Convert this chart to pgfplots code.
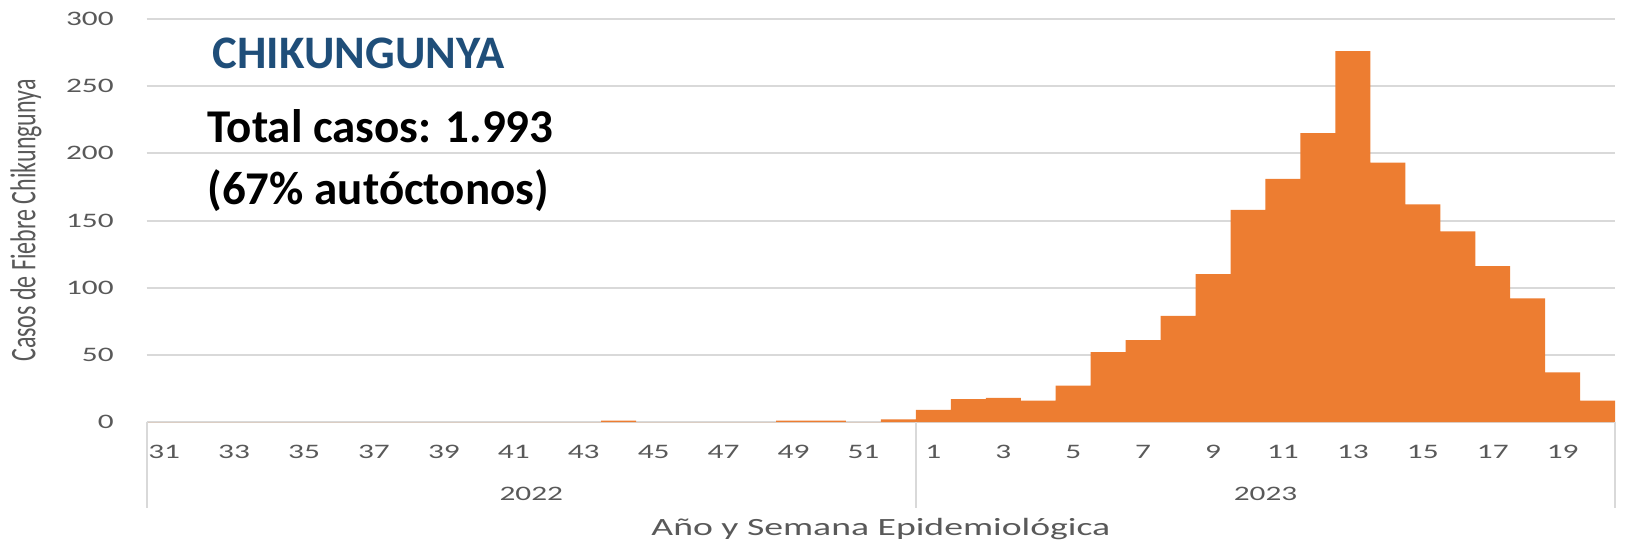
\documentclass[border=0pt]{standalone}
\usepackage{fontspec}
\setmainfont{Carlito}
\newfontfamily\chartfont[FakeStretch=1.52]{Carlito}
\usepackage{pgfplots}
\pgfplotsset{compat=1.18}
\definecolor{barorange}{HTML}{ED7D31}
\definecolor{titleblue}{HTML}{1F4E79}
\definecolor{gridgray}{HTML}{D9D9D9}
\definecolor{txtgray}{HTML}{595959}

% index 0..21 = weeks 31..52 of 2022, 22..41 = weeks 1..20 of 2023
\pgfplotstableread{
x y
0 0
1 0
2 0
3 0
4 0
5 0
6 0
7 0
8 0
9 0
10 0
11 0
12 0
13 1
14 0
15 0
16 0
17 0
18 1
19 1
20 0
21 2
22 9
23 17
24 18
25 16
26 27
27 52
28 61
29 79
30 110
31 158
32 181
33 215
34 276
35 193
36 162
37 142
38 116
39 92
40 37
41 16
}\casos

\begin{document}
\begin{tikzpicture}
\begin{axis}[
  at={(0pt,0pt)}, anchor=south west,
  scale only axis, width=734.2pt, height=201.5pt,
  xmin=-0.5, xmax=41.5, ymin=0, ymax=300,
  clip=false,
  axis line style={draw=none},
  major tick length=0pt,
  ytick={0,50,...,300},
  ymajorgrids,
  grid style={gridgray, line width=1pt},
  xtick={0,2,...,40},
  xticklabels={31,33,35,37,39,41,43,45,47,49,51,1,3,5,7,9,11,13,15,17,19},
  /pgf/number format/assume math mode=true,
  ticklabel style={font=\chartfont\fontsize{10.3}{12}\selectfont, text=txtgray},
  xticklabel style={anchor=center, inner sep=0pt, yshift=-14.8pt},
  yticklabel style={anchor=east, inner sep=0pt, xshift=-16.3pt},
  xlabel={Año y Semana Epidemiológica},
  xlabel style={at={(axis description cs:0.5,0)}, anchor=center, yshift=-53.5pt,
    font=\chartfont\fontsize{12.4}{14}\selectfont, text=txtgray},
  ylabel={\scalebox{1}[1.5]{Casos de Fiebre Chikungunya}},
  ylabel style={at={(axis description cs:-0.0822,0.5)}, anchor=center,
    font=\fontsize{12}{14}\selectfont, text=txtgray},
]
\addplot[ybar, bar width=1, fill=barorange, draw=none] table[x=x, y=y] {\casos};

\draw[gridgray, line width=1pt] (axis cs:-0.5,0) -- ([yshift=-43pt]axis cs:-0.5,0);
\draw[gridgray, line width=1pt] (axis cs:21.5,0) -- ([yshift=-43pt]axis cs:21.5,0);
\draw[gridgray, line width=1pt] (axis cs:41.5,0) -- ([yshift=-43pt]axis cs:41.5,0);
\node[font=\chartfont\fontsize{10.3}{12}\selectfont, text=txtgray, inner sep=0pt]
  at (axis cs:10.5,0) [yshift=-36pt] {2022};
\node[font=\chartfont\fontsize{10.3}{12}\selectfont, text=txtgray, inner sep=0pt]
  at (axis cs:31.5,0) [yshift=-36pt] {2023};
\end{axis}

\node[anchor=base west, inner sep=0pt, font=\bfseries\fontsize{23.3}{26}\selectfont, text=titleblue]
  at (32.9pt,176.8pt) {CHIKUNGUNYA};
\node[anchor=base west, inner sep=0pt, font=\bfseries\fontsize{23.5}{28}\selectfont]
  at (30.2pt,140pt) {Total casos: 1.993};
\node[anchor=base west, inner sep=0pt, font=\bfseries\fontsize{23.5}{28}\selectfont]
  at (30.2pt,109pt) {(67\% autóctonos)};

\pgfresetboundingbox
\useasboundingbox (-73.35pt,-60.5pt) rectangle (739.15pt,211pt);
\end{tikzpicture}
\end{document}
